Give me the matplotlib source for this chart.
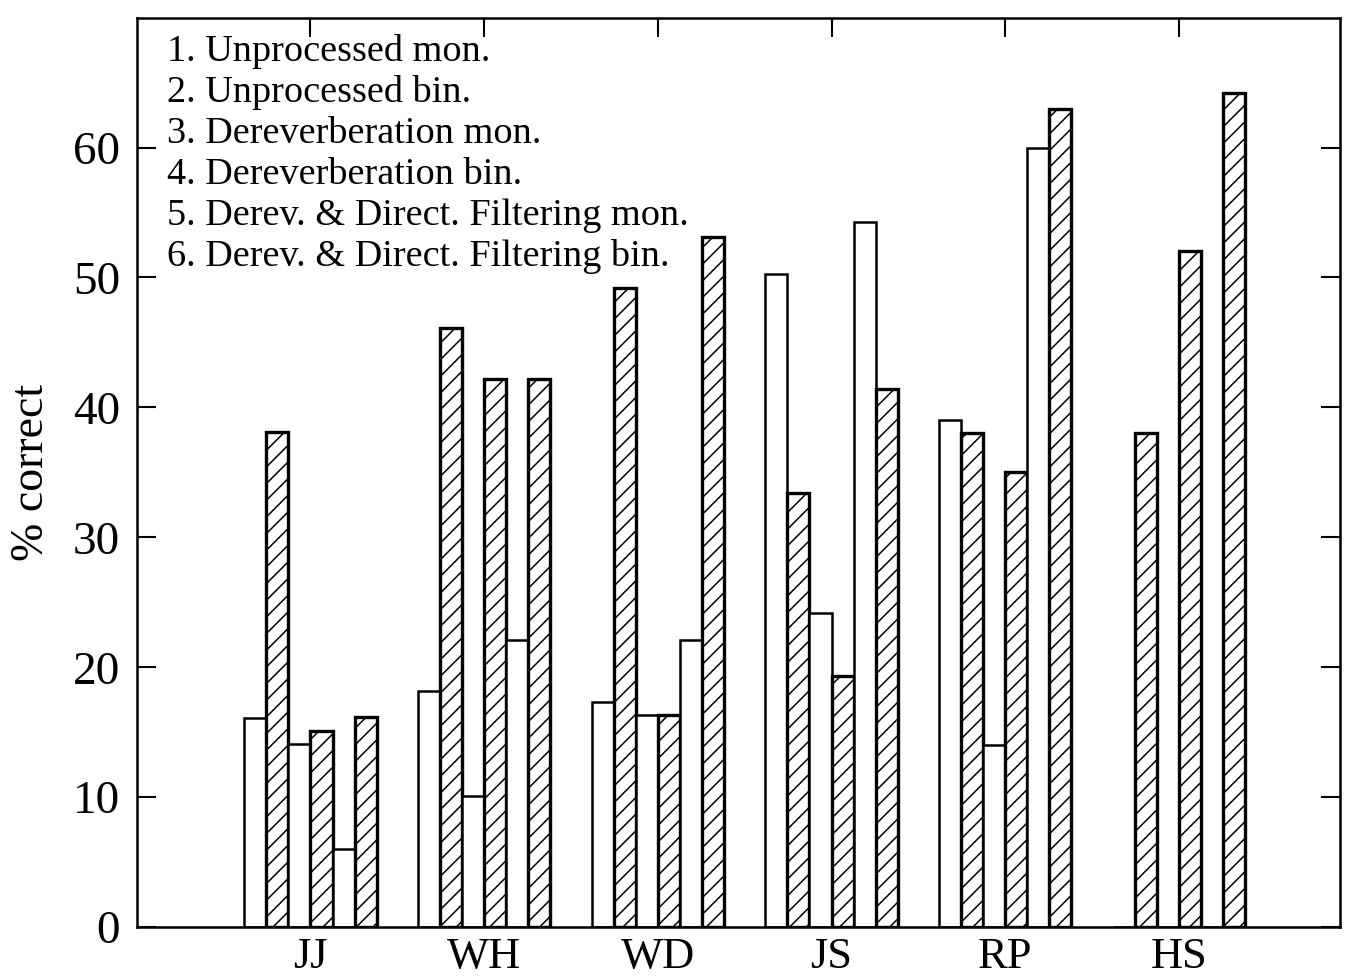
import numpy as np
import matplotlib.pyplot as plt

# subjects on the x axis
subjects = ['JJ', 'WH', 'WD', 'JS', 'RP', 'HS']

conditions = ['1. Unprocessed mon.',
              '2. Unprocessed bin.',
              '3. Dereverberation mon.',
              '4. Dereverberation bin.',
              '5. Derev. & Direct. Filtering mon.',
              '6. Derev. & Direct. Filtering bin.']

# % correct, one list per condition (order of subjects above)
unproc_mon = [16.1, 18.2, 17.3, 50.3, 39.0, 0]
unproc_bin = [38.1, 46.1, 49.2, 33.4, 38.0, 38.0]
derev_mon = [14.1, 10.1, 16.3, 24.2, 14.0, 0]
derev_bin = [15.1, 42.2, 16.3, 19.3, 35.0, 52.0]
filt_mon = [6.0, 22.1, 22.1, 54.3, 60.0, 0]
filt_bin = [16.2, 42.2, 53.1, 41.4, 63.0, 64.2]

series = [unproc_mon, unproc_bin, derev_mon, derev_bin, filt_mon, filt_bin]

plt.rcParams['font.family'] = ['Liberation Serif', 'DejaVu Serif']
plt.rcParams['hatch.linewidth'] = 1.1

fig = plt.figure(figsize=(13.54, 9.77), dpi=100)
ax = fig.add_axes([0.101, 0.051, 0.889, 0.931])

x = np.arange(len(subjects))
w = 0.127
for k, vals in enumerate(series):
    pos = x + (k - 2.5) * w
    if k % 2 == 1:
        ax.bar(pos, vals, width=w, color='white', edgecolor='black',
               hatch='//', linewidth=2.4)
    else:
        ax.bar(pos, vals, width=w, color='white', edgecolor='black',
               linewidth=1.8)

# legend is just a numbered list of text
for k, lab in enumerate(conditions):
    ax.text(0.025, 0.963 - k * 0.0451, lab, transform=ax.transAxes,
            fontsize=27.5, va='center', ha='left')

ax.set_xlim(-1.0, 5.93)
ax.set_ylim(0, 70)
ax.set_yticks(range(0, 70, 10))
ax.set_xticks(x)
ax.set_xticklabels(subjects, fontsize=32)
ax.tick_params(axis='y', direction='in', length=14, width=1.5,
               right=True, labelsize=34, pad=12)
ax.tick_params(axis='x', direction='in', length=14, width=1.5,
               top=True, bottom=False, pad=7)
ax.set_ylabel('% correct', fontsize=33, labelpad=14)

for sp in ax.spines.values():
    sp.set_linewidth(1.8)

fig.savefig('out.png', dpi=100)
